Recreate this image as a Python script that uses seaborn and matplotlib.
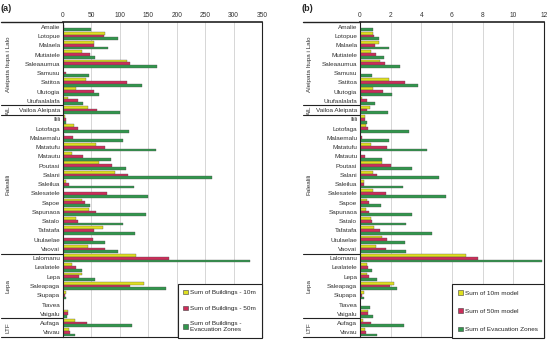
import numpy as np
import pandas as pd
import matplotlib
matplotlib.use("Agg")
import matplotlib.pyplot as plt
import matplotlib.transforms as mtransforms
import seaborn as sns

villages = ["Amalie", "Lotopue", "Malaela", "Mutiatele", "Saleaaumua", "Samusu",
            "Satitoa", "Ulutogia", "Utufaalalafa", "Vailoa Aleipata", "Ilili",
            "Lotofaga", "Malaemalu", "Matatufu", "Matautu", "Poutasi", "Salani",
            "Saleilua", "Salesatele", "Sapoe", "Sapunaoa", "Satalo", "Tafatafa",
            "Utulaelae", "Vaovai", "Lalomanu", "Lealatele", "Lepa", "Saleapaga",
            "Siupapa", "Tiavea", "Vaigalu", "Aufaga", "Vavau"]

# groups: (label, number of villages)
groups = [("Aleipata Itupa i Lalo", 9), ("AIL", 1), ("Falealili", 15),
          ("Lepa", 7), ("LTF", 2)]

# panel (a): number of buildings
bld_10m = [0, 74, 55, 33, 113, 0, 41, 23, 8, 44, 4, 19, 1, 58, 15, 63, 92,
           6, 0, 33, 46, 23, 71, 0, 44, 129, 16, 33, 143, 5, 0, 8, 22, 11]
bld_50m = [2, 72, 55, 47, 118, 5, 113, 55, 26, 60, 5, 27, 17, 74, 36, 87, 115,
           11, 77, 39, 58, 27, 55, 53, 73, 187, 23, 29, 117, 4, 0, 8, 43, 12]
bld_evac = [49, 96, 80, 57, 166, 45, 139, 63, 36, 101, 5, 116, 106, 163, 85, 110, 262,
            125, 150, 47, 146, 105, 126, 74, 97, 329, 33, 57, 181, 6, 0, 7, 121, 22]

# panel (b): model values
mod_10m = [0, 0.82, 1.26, 0.69, 1.32, 0, 1.91, 0.82, 0.15, 0.63, 0.35, 0.41, 0,
           0.69, 0, 1.41, 0.82, 0.26, 0.82, 0.43, 0.39, 0.69, 0.89, 1.41, 1.02,
           6.94, 0.48, 0.43, 2.24, 0.24, 0, 0.50, 0.20, 0.30]
mod_50m = [0, 0.91, 1.0, 1.06, 1.65, 0.03, 2.91, 1.48, 0.43, 0.43, 0.35, 0.52, 0.15,
           1.76, 0.35, 2.04, 1.13, 0.26, 1.71, 0.56, 0.61, 0.76, 1.30, 1.76, 1.69,
           7.73, 0.54, 0.56, 1.95, 0.15, 0, 0.54, 0.69, 0.37]
mod_evac = [0.82, 1.26, 1.87, 1.56, 2.63, 0.76, 3.78, 2.10, 0.98, 1.82, 0.43, 3.20, 1.87,
            4.39, 1.41, 3.40, 5.14, 2.78, 5.64, 1.35, 3.39, 2.99, 4.73, 2.91, 2.97,
            11.9, 0.80, 1.09, 2.39, 0.28, 0.63, 0.82, 2.89, 1.09]

labels_a = ["Sum of Buildings - 10m", "Sum of Buildings - 50m",
            "Sum of Buildings -\nEvacuation Zones"]
labels_b = ["Sum of 10m model", "Sum of 50m model", "Sum of Evacuation Zones"]
colors = ["#FFFF00", "#E8124E", "#22A645"]

sns.set_style("white")
plt.rcParams["font.family"] = ["Liberation Sans", "DejaVu Sans"]


def long_df(series, names):
    frames = []
    for vals, name in zip(series, names):
        frames.append(pd.DataFrame({"village": villages, "value": vals, "series": name}))
    return pd.concat(frames, ignore_index=True)


def draw_panel(fig, rect, df, names, xmax, step, tag, spacing):
    ax = fig.add_axes(rect)
    sns.barplot(data=df, y="village", x="value", hue="series", order=villages,
                hue_order=names, palette=colors, orient="h", width=0.9,
                edgecolor="#505050", linewidth=0.25, ax=ax, legend=True)
    ax.set_xlim(0, xmax)
    ax.set_ylim(len(villages) - 0.5, -0.5)
    ax.set_xticks(np.arange(0, xmax + step / 2, step))
    ax.xaxis.tick_top()
    ax.tick_params(axis="x", labelsize=4.8, length=0, pad=2, colors="#333333")
    ax.tick_params(axis="y", labelsize=4.6, length=0, pad=2, colors="#333333")
    ax.set_xlabel("")
    ax.set_ylabel("")
    ax.grid(axis="x", color="#d0d0d0", linewidth=0.6)
    ax.set_axisbelow(True)
    for side in ["left", "right", "top", "bottom"]:
        ax.spines[side].set_visible(True)
        ax.spines[side].set_color("#222222")
        ax.spines[side].set_linewidth(0.8)
    ax.spines["top"].set_linewidth(1.2)

    # group separators and rotated group labels
    trans = mtransforms.blended_transform_factory(ax.transAxes, ax.transData)
    x0 = -0.31
    for yy in [-0.5, len(villages) - 0.5]:
        ax.plot([x0, 0], [yy, yy], transform=trans, color="#222222",
                lw=1.0 if yy < 0 else 0.8, clip_on=False)
    start = 0
    for name, n in groups:
        end = start + n
        if end < len(villages):
            ax.plot([x0, 0], [end - 0.5, end - 0.5], transform=trans,
                    color="#222222", lw=0.8, clip_on=False)
        ax.text(x0 + 0.035, (start + end - 1) / 2, name, transform=trans,
                rotation=90, ha="center", va="center", fontsize=4.6, color="#333333")
        start = end

    handles, _ = ax.get_legend_handles_labels()
    ax.legend(handles, names, loc="lower right", bbox_to_anchor=(1.0, -0.003),
              fontsize=4.6, frameon=True, fancybox=False, edgecolor="#222222",
              framealpha=1, handlelength=0.7, handleheight=0.7, labelspacing=spacing,
              borderpad=0.9, handletextpad=0.4, borderaxespad=0)
    ax.get_legend().get_frame().set_linewidth(0.8)
    for h in ax.get_legend().legend_handles:
        h.set_edgecolor("#404040")
        h.set_linewidth(0.4)

    fig.text(rect[0] + x0 * rect[2] - 0.002, 0.975, tag, fontsize=6.5,
             fontweight="bold", ha="left", va="center")
    return ax


fig = plt.figure(figsize=(5.5, 3.41), dpi=100)
draw_panel(fig, [0.1145, 0.012, 0.362, 0.923],
           long_df([bld_10m, bld_50m, bld_evac], labels_a), labels_a, 350, 50, "(a)", 1.6)
draw_panel(fig, [0.6545, 0.012, 0.3345, 0.923],
           long_df([mod_10m, mod_50m, mod_evac], labels_b), labels_b, 12, 2, "(b)", 2.0)

fig.savefig("out.png", dpi=100)
